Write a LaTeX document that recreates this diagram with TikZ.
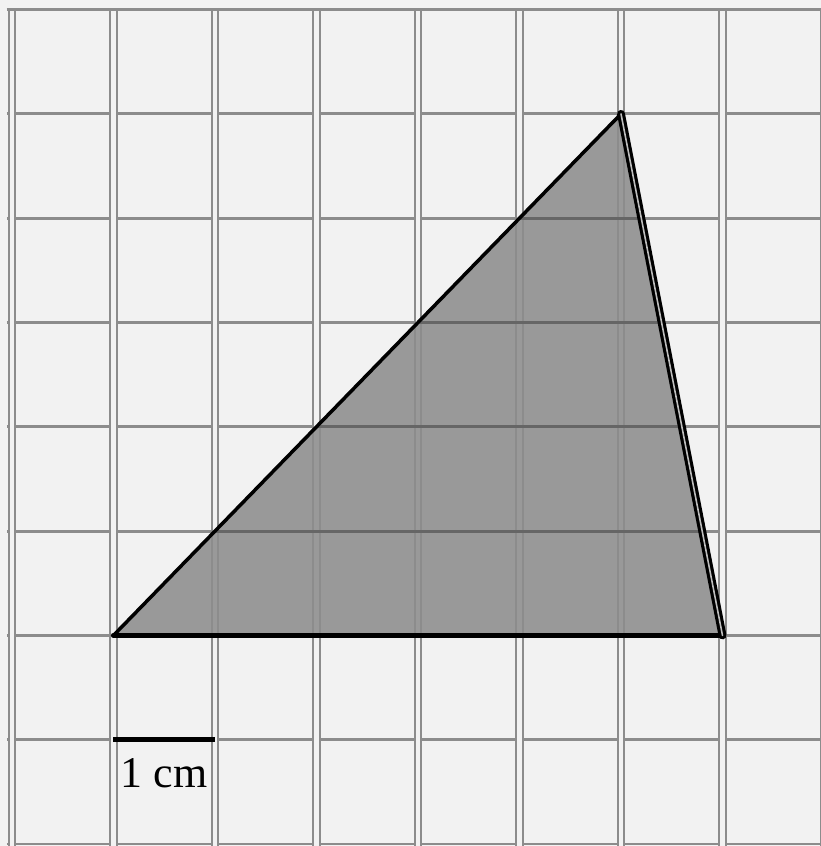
\documentclass[tikz,border=0pt]{standalone}
\usepackage{fontspec}
\setmainfont{Liberation Serif}
\usetikzlibrary{positioning, calc}

\begin{document}
\begin{tikzpicture}[x=2.03cm, y=2.086cm,
  hline/.style={draw=gray!90, line width=1.6pt},
  vline/.style={draw=gray!90, line width=1.1pt, double=gray!10, double distance=2.4pt},
  edge/.style={line width=2pt, line join=round, line cap=round}]
  % Background
  \fill[gray!10] (-0.118,-0.019) rectangle (7.97,8.092);
  \useasboundingbox (-0.118,-0.019) rectangle (7.97,8.092);
  % Triangle (fill)
  \coordinate (A) at (1,2);
  \coordinate (B) at (7,2);
  \coordinate (C) at (6,7);
  \fill[gray!80] (A) -- (B) -- (C) -- cycle;
  % Grid
  \foreach \y in {0,...,8}
    \draw[hline] (-0.05,\y) -- (7.97,\y);
  \foreach \x in {0,...,8}
    \draw[vline, double=gray!10] (\x,-0.019) -- (\x,8);
  \begin{scope}
    \clip (A) -- (B) -- (C) -- cycle;
    \foreach \x in {1,...,7}
      \draw[vline, double=gray!80] (\x,-0.019) -- (\x,8);
    \foreach \y in {2,...,7}
      \draw[hline, draw=gray!120] (-0.05,\y) -- (7.97,\y);
  \end{scope}
  \draw[gray!90, line width=2pt] (-0.05,8) -- (7.97,8);
  % Triangle (edges)
  \draw[edge] (C) -- (A);
  \draw[edge, line width=3pt] (A) -- (B);
  \draw[edge, line width=1.8pt, double=gray!50, double distance=0.9pt] (B) -- (C);
  % Scale bar
  \coordinate (bar0) at (1,1);
  \coordinate (bar1) at (2,1);
  \draw[line width=2.8pt] (bar0) -- (bar1);
  \node (barlabel) [anchor=north, inner sep=0pt, yshift=-0.36cm,
    font=\fontsize{25}{28}\selectfont] at ($(bar0)!0.5!(bar1)$) {1 cm};
\end{tikzpicture}
\end{document}
